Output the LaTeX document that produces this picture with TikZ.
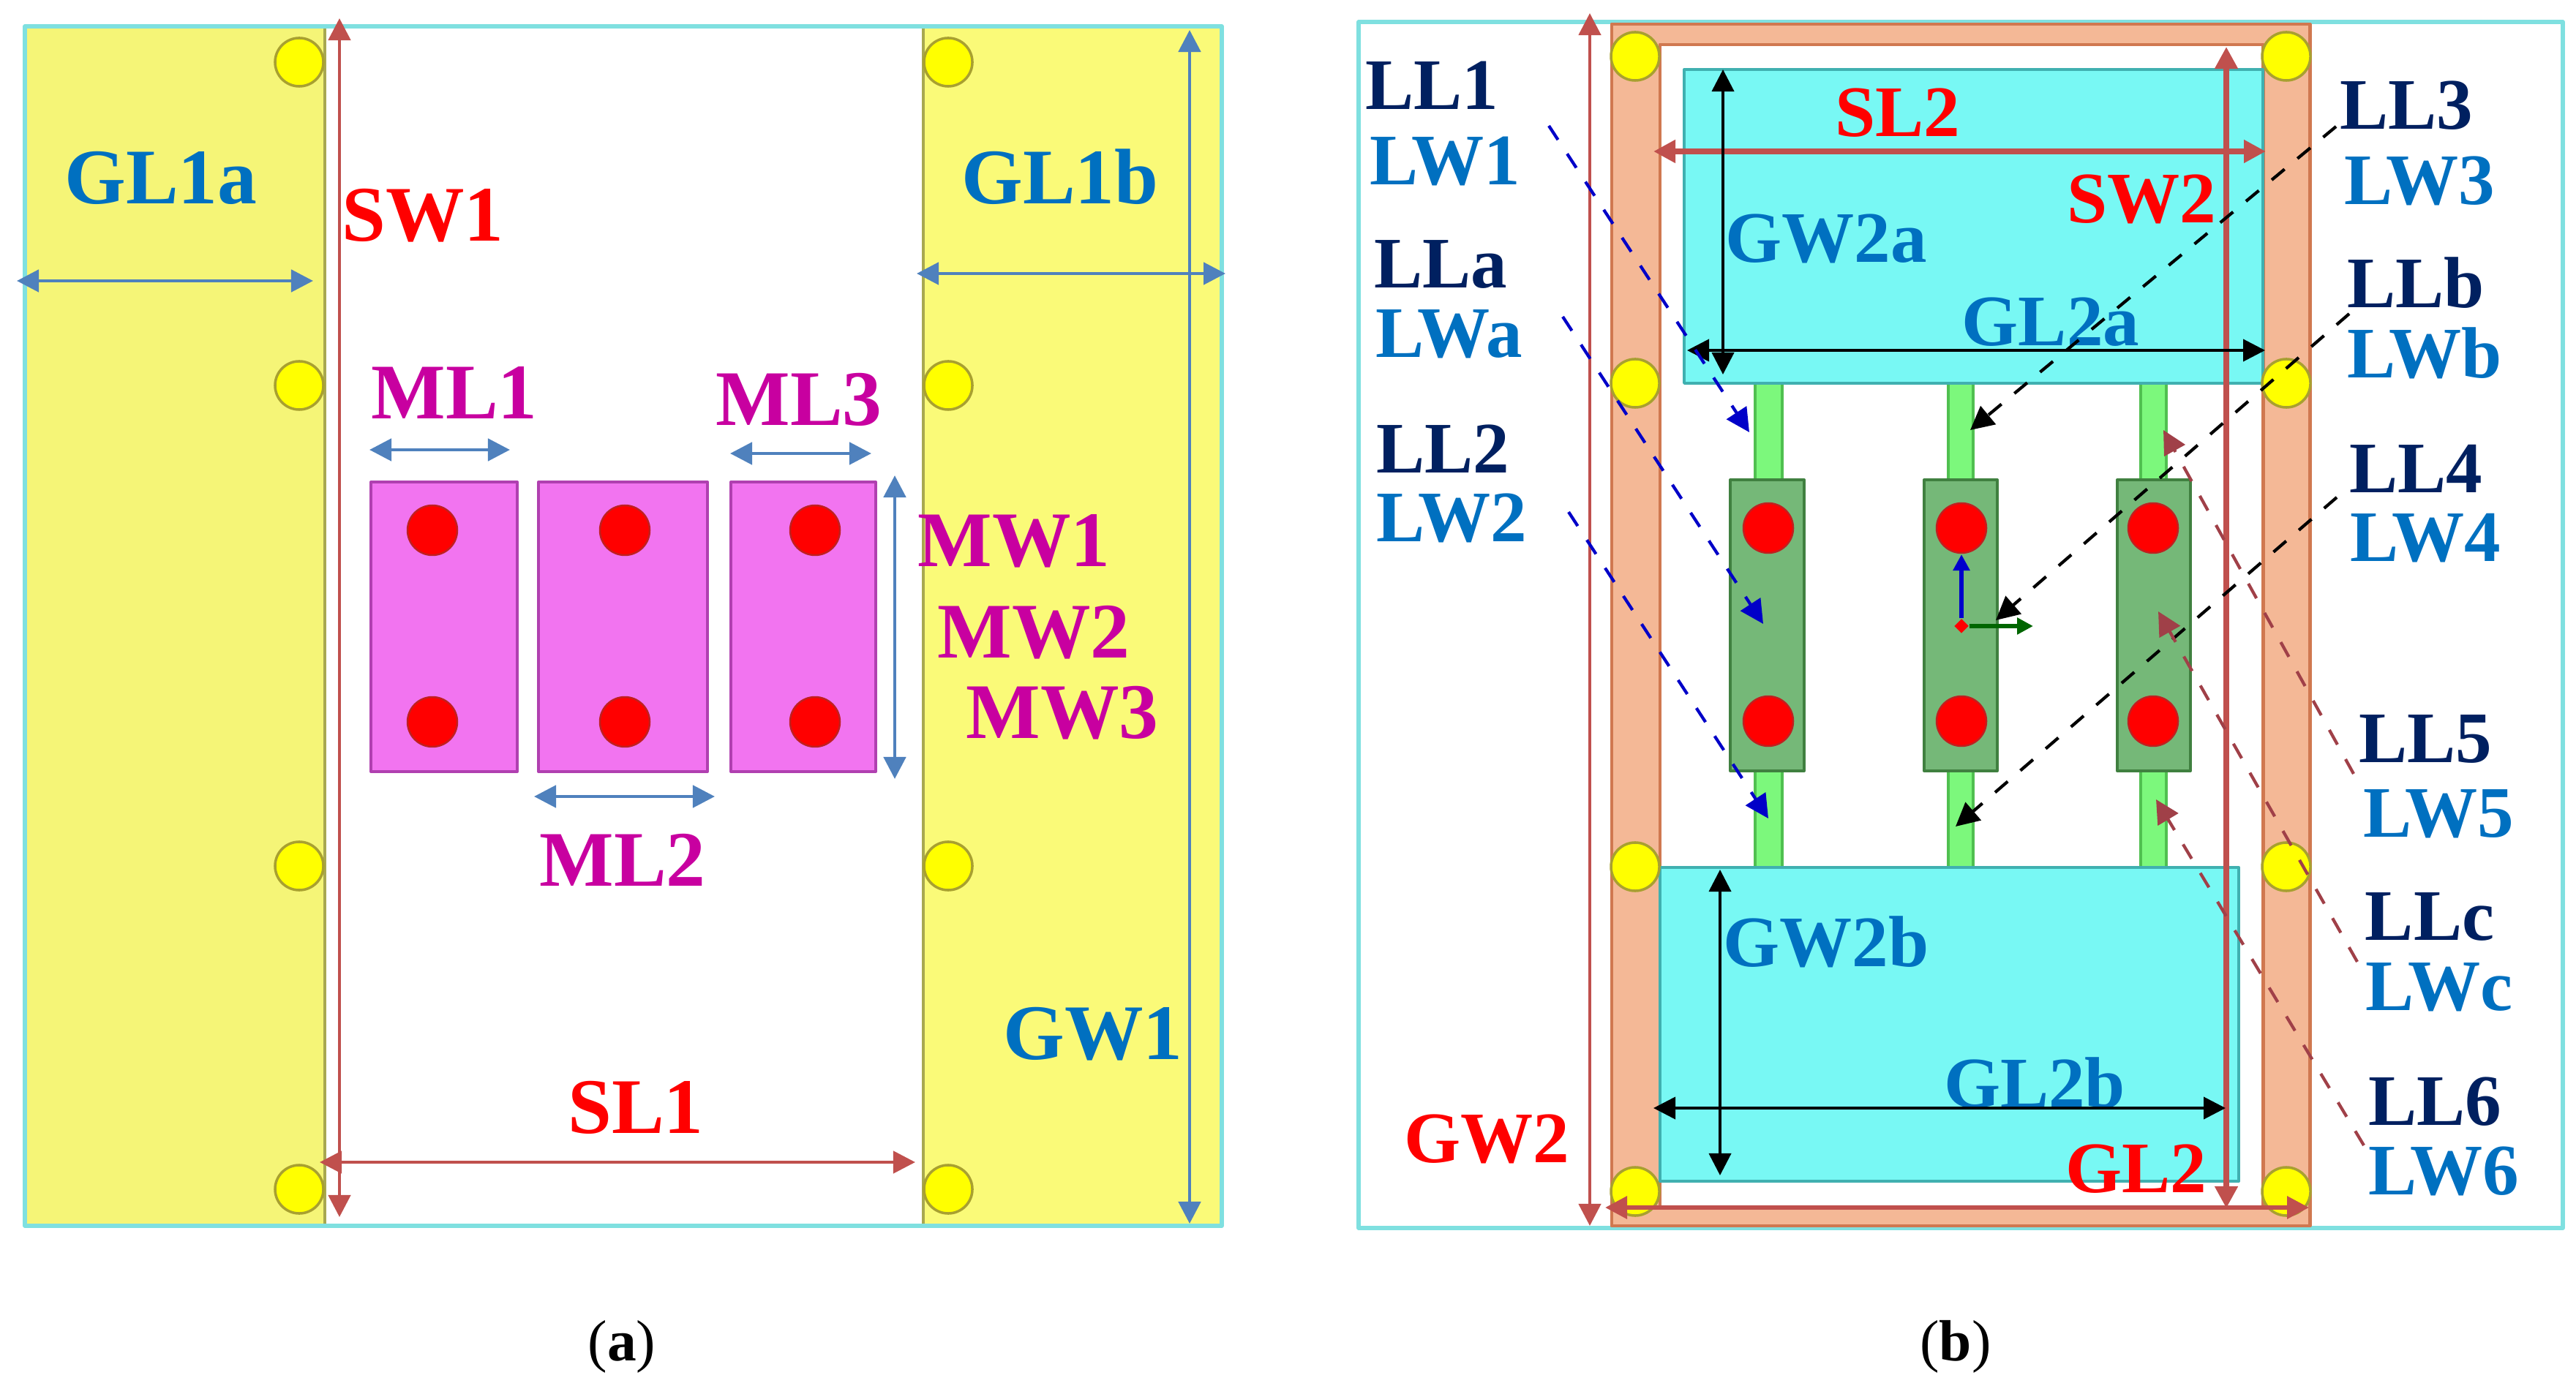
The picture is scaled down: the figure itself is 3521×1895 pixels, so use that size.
\documentclass[tikz,border=0pt]{standalone}
\usepackage{fontspec}
\setmainfont{Liberation Serif}
\usetikzlibrary{arrows.meta,shapes.geometric}

\definecolor{framecyan}{HTML}{7FE0E0}
\definecolor{groundyel}{HTML}{F5F577}
\definecolor{groundyelb}{HTML}{FAFA78}
\definecolor{groundedge}{HTML}{A8A850}
\definecolor{padyel}{HTML}{FFFF00}
\definecolor{padedge}{HTML}{A8A030}
\definecolor{patchmag}{HTML}{F274F0}
\definecolor{patchedge}{HTML}{B040B0}
\definecolor{viaedge}{HTML}{C02020}
\definecolor{dimred}{HTML}{C0504D}
\definecolor{dimblue}{HTML}{4F81BD}
\definecolor{textblue}{HTML}{0070C0}
\definecolor{textnavy}{HTML}{002060}
\definecolor{textmag}{HTML}{C800A0}
\definecolor{ringfill}{HTML}{F4B896}
\definecolor{ringedge}{HTML}{D07850}
\definecolor{planecyan}{HTML}{78F8F4}
\definecolor{planeedge}{HTML}{40B0B0}
\definecolor{stripgreen}{HTML}{7CF87C}
\definecolor{stripedge}{HTML}{50C050}
\definecolor{boxgreen}{HTML}{75B878}
\definecolor{boxedge}{HTML}{408040}
\definecolor{dashbrown}{HTML}{A04048}
\definecolor{dashblue}{HTML}{0000C8}

\begin{document}
\begin{tikzpicture}
        [x=0.01cm, y=-0.01cm, line join=round,
        pad/.style={draw=padedge,fill=padyel,shape=circle,inner sep=0,minimum size=0.66cm,line width=1pt},
        via/.style={draw=viaedge,fill=red,shape=circle,inner sep=0,minimum size=0.68cm,line width=0.7pt},
        laba/.style={anchor=base,inner sep=0,font=\fontsize{30.6}{33}\selectfont\bfseries},
        labb/.style={anchor=base,inner sep=0,font=\fontsize{28.2}{31}\selectfont\bfseries},
        tip/.style={-{Triangle[length=0.32cm,width=0.32cm]}},
        dimboth/.style={{Triangle[length=0.3cm,width=0.3cm]}-{Triangle[length=0.3cm,width=0.3cm]}},
        dima/.style={dimboth,draw=dimblue,line width=1.4pt},
        dimr/.style={dimboth,draw=dimred,line width=1.3pt},
        dimk/.style={dimboth,draw=black,line width=1.1pt},
        leader/.style={tip,dash pattern=on 6.5pt off 6.5pt,line width=1.2pt}]

        \useasboundingbox (0,0) rectangle (3521,1895);

        % panel a
        \fill[groundyel] (34,36) rectangle (444,1676);
        \fill[groundyelb] (1262,36) rectangle (1670,1676);
        \draw[groundedge,line width=1.2pt] (444,36) -- (444,1676);
        \draw[groundedge,line width=1.2pt] (1262,36) -- (1262,1676);
        \draw[framecyan,line width=1.6pt] (34,36) rectangle (1670,1676);

        \draw[patchedge,fill=patchmag,line width=1.1pt] (507,659) rectangle (707,1055);
        \draw[patchedge,fill=patchmag,line width=1.1pt] (736,659) rectangle (967,1055);
        \draw[patchedge,fill=patchmag,line width=1.1pt] (999,659) rectangle (1197,1055);

        \node[pad] (pa1) at (409,85) {};
        \node[pad] (pa2) at (409,527) {};
        \node[pad] (pa3) at (409,1184) {};
        \node[pad] (pa4) at (409,1626) {};
        \node[pad] (pa5) at (1296,85) {};
        \node[pad] (pa6) at (1296,527) {};
        \node[pad] (pa7) at (1296,1184) {};
        \node[pad] (pa8) at (1296,1626) {};

        \node[via] (va1) at (591,725) {};
        \node[via] (va2) at (591,987) {};
        \node[via] (va3) at (854,725) {};
        \node[via] (va4) at (854,987) {};
        \node[via] (va5) at (1114,725) {};
        \node[via] (va6) at (1114,987) {};

        \coordinate (sw1t) at (464,25);
        \coordinate (sw1b) at (464,1664);
        \coordinate (sl1l) at (437,1589);
        \coordinate (sl1r) at (1251,1589);
        \coordinate (gl1al) at (23,384);
        \coordinate (gl1ar) at (428,384);
        \coordinate (gl1bl) at (1253,374);
        \coordinate (gl1br) at (1675,374);
        \coordinate (gw1t) at (1626,41);
        \coordinate (gw1b) at (1626,1673);
        \coordinate (ml1l) at (505,615);
        \coordinate (ml1r) at (697,615);
        \coordinate (ml2l) at (730,1089);
        \coordinate (ml2r) at (977,1089);
        \coordinate (ml3l) at (998,620);
        \coordinate (ml3r) at (1191,620);
        \coordinate (mwt) at (1223,650);
        \coordinate (mwb) at (1223,1065);

        \draw[dimr] (sw1t) -- (sw1b);
        \draw[dimr] (sl1l) -- (sl1r);
        \draw[dima] (gl1al) -- (gl1ar);
        \draw[dima] (gl1bl) -- (gl1br);
        \draw[dima] (gw1t) -- (gw1b);
        \draw[dima] (ml1l) -- (ml1r);
        \draw[dima] (ml2l) -- (ml2r);
        \draw[dima] (ml3l) -- (ml3r);
        \draw[dima] (mwt) -- (mwb);

        \node[laba,textblue] (gl1a) at (220,279) {GL1a};
        \node[laba,textblue] (gl1b) at (1449,279) {GL1b};
        \node[laba,textblue] (gw1) at (1494,1448) {GW1};
        \node[laba,red] (sw1) at (578,330) {SW1};
        \node[laba,red] (sl1) at (869,1549) {SL1};
        \node[laba,textmag] (ml1) at (621,573) {ML1};
        \node[laba,textmag] (ml2) at (851,1211) {ML2};
        \node[laba,textmag] (ml3) at (1092,582) {ML3};
        \node[laba,textmag] (mw1) at (1386,775) {MW1};
        \node[laba,textmag] (mw2) at (1413,900) {MW2};
        \node[laba,textmag] (mw3) at (1452,1010) {MW3};
        \node[anchor=base,inner sep=0,font=\fontsize{22.6}{25}\selectfont] (capa) at (850,1860) {(\textbf{a})};

        % panel b
        \draw[framecyan,line width=1.6pt] (1857,30) rectangle (3503,1679);
        \draw[ringedge,fill=ringfill,even odd rule,line width=1.4pt] (2203,33) rectangle (3157,1676) (2269,61) rectangle (3093,1650);

        \fill[stripgreen] (2399,524) rectangle (2436,1186);
        \fill[stripgreen] (2663,524) rectangle (2697,1186);
        \fill[stripgreen] (2926,524) rectangle (2961,1186);
        \draw[stripedge,line width=1.2pt] (2399,524) rectangle (2436,1186);
        \draw[stripedge,line width=1.2pt] (2663,524) rectangle (2697,1186);
        \draw[stripedge,line width=1.2pt] (2926,524) rectangle (2961,1186);

        \draw[planeedge,fill=planecyan,line width=1.1pt] (2302,95) rectangle (3093,524);
        \draw[planeedge,fill=planecyan,line width=1.1pt] (2269,1186) rectangle (3060,1615);

        \draw[boxedge,fill=boxgreen,line width=1.1pt] (2365,656) rectangle (2466,1054);
        \draw[boxedge,fill=boxgreen,line width=1.1pt] (2630,656) rectangle (2730,1054);
        \draw[boxedge,fill=boxgreen,line width=1.1pt] (2894,656) rectangle (2994,1054);

        \node[pad] (pb1) at (2235,77) {};
        \node[pad] (pb2) at (2235,524) {};
        \node[pad] (pb3) at (2235,1185) {};
        \node[pad] (pb4) at (2235,1629) {};
        \node[pad] (pb5) at (3125,77) {};
        \node[pad] (pb6) at (3125,524) {};
        \node[pad] (pb7) at (3125,1185) {};
        \node[pad] (pb8) at (3125,1629) {};

        \node[via] (vb1) at (2417,722) {};
        \node[via] (vb2) at (2417,986) {};
        \node[via] (vb3) at (2681,722) {};
        \node[via] (vb4) at (2681,986) {};
        \node[via] (vb5) at (2943,722) {};
        \node[via] (vb6) at (2943,986) {};

        \node[labb,textblue] (gw2a) at (2496,359) {GW2a};
        \node[labb,textblue] (gl2a) at (2803,473) {GL2a};
        \node[labb,textblue] (gw2b) at (2496,1321) {GW2b};
        \node[labb,textblue] (gl2b) at (2781,1514) {GL2b};
        \node[labb,red] (sl2) at (2594,187) {SL2};
        \node[labb,red] (sw2) at (2927,305) {SW2};
        \node[labb,red] (gl2) at (2920,1630) {GL2};
        \node[labb,red] (gw2) at (2032,1589) {GW2};

        \coordinate (gw2t) at (2173,18);
        \coordinate (gw2b2) at (2173,1676);
        \coordinate (gl2l) at (2194,1651);
        \coordinate (gl2r) at (3156,1651);
        \coordinate (sl2l) at (2260,207);
        \coordinate (sl2r) at (3097,207);
        \coordinate (sw2t) at (3043,64);
        \coordinate (sw2b) at (3043,1652);
        \coordinate (gw2at) at (2355,95);
        \coordinate (gw2ab) at (2355,512);
        \coordinate (gl2al) at (2306,479);
        \coordinate (gl2ar) at (3096,479);
        \coordinate (gw2bt) at (2351,1189);
        \coordinate (gw2bb) at (2351,1607);
        \coordinate (gl2bl) at (2260,1515);
        \coordinate (gl2br) at (3042,1515);

        \draw[dimr] (gw2t) -- (gw2b2);
        \draw[dimr,line width=1.8pt] (gl2l) -- (gl2r);
        \draw[dimr,line width=2.2pt] (sl2l) -- (sl2r);
        \draw[dimr,line width=2.2pt] (sw2t) -- (sw2b);
        \draw[dimk] (gw2at) -- (gw2ab);
        \draw[dimk] (gl2al) -- (gl2ar);
        \draw[dimk] (gw2bt) -- (gw2bb);
        \draw[dimk] (gl2bl) -- (gl2br);

        % axes on the middle box
        \node[shape=diamond,fill=red,inner sep=0,minimum size=0.2cm] (orig) at (2681,856) {};
        \coordinate (axy) at (2681,758);
        \coordinate (axx) at (2779,856);
        \draw[-{Triangle[length=0.22cm,width=0.22cm]},blue!80!black,line width=1.6pt] (orig) -- (axy);
        \draw[-{Triangle[length=0.22cm,width=0.22cm]},green!40!black,line width=1.6pt] (orig) -- (axx);

        \node[labb,textnavy] (ll1) at (1957,150) {LL1};
        \node[labb,textblue] (lw1) at (1975,253) {LW1};
        \node[labb,textnavy] (lla) at (1969,394) {LLa};
        \node[labb,textblue] (lwa) at (1981,489) {LWa};
        \node[labb,textnavy] (ll2) at (1972,647) {LL2};
        \node[labb,textblue] (lw2) at (1984,741) {LW2};
        \node[labb,textnavy] (ll3) at (3289,177) {LL3};
        \node[labb,textblue] (lw3) at (3307,280) {LW3};
        \node[labb,textnavy] (llb) at (3302,421) {LLb};
        \node[labb,textblue] (lwb) at (3314,517) {LWb};
        \node[labb,textnavy] (ll4) at (3302,674) {LL4};
        \node[labb,textblue] (lw4) at (3315,768) {LW4};
        \node[labb,textnavy] (ll5) at (3315,1042) {LL5};
        \node[labb,textblue] (lw5) at (3333,1144) {LW5};
        \node[labb,textnavy] (llc) at (3321,1285) {LLc};
        \node[labb,textblue] (lwc) at (3334,1381) {LWc};
        \node[labb,textnavy] (ll6) at (3328,1538) {LL6};
        \node[labb,textblue] (lw6) at (3340,1633) {LW6};
        \node[anchor=base,inner sep=0,font=\fontsize{22.6}{25}\selectfont] (capb) at (2673,1860) {(\textbf{b})};

        \coordinate (d1a) at (2117,172);
        \coordinate (d1b) at (2391,591);
        \coordinate (d2a) at (2136,433);
        \coordinate (d2b) at (2410,853);
        \coordinate (d3a) at (2144,700);
        \coordinate (d3b) at (2417,1119);
        \coordinate (d4a) at (3193,173);
        \coordinate (d4b) at (2693,588);
        \coordinate (d5a) at (3211,429);
        \coordinate (d5b) at (2728,848);
        \coordinate (d6a) at (3194,680);
        \coordinate (d6b) at (2673,1130);
        \coordinate (d7a) at (3217,1058);
        \coordinate (d7b) at (2957,588);
        \coordinate (d8a) at (3222,1315);
        \coordinate (d8b) at (2950,836);
        \coordinate (d9a) at (3231,1566);
        \coordinate (d9b) at (2947,1093);

        \draw[leader,dashblue] (d1a) -- (d1b);
        \draw[leader,dashblue] (d2a) -- (d2b);
        \draw[leader,dashblue] (d3a) -- (d3b);
        \draw[leader,black] (d4a) -- (d4b);
        \draw[leader,black] (d5a) -- (d5b);
        \draw[leader,black] (d6a) -- (d6b);
        \draw[leader,dashbrown] (d7a) -- (d7b);
        \draw[leader,dashbrown] (d8a) -- (d8b);
        \draw[leader,dashbrown] (d9a) -- (d9b);

      \end{tikzpicture}
\end{document}
